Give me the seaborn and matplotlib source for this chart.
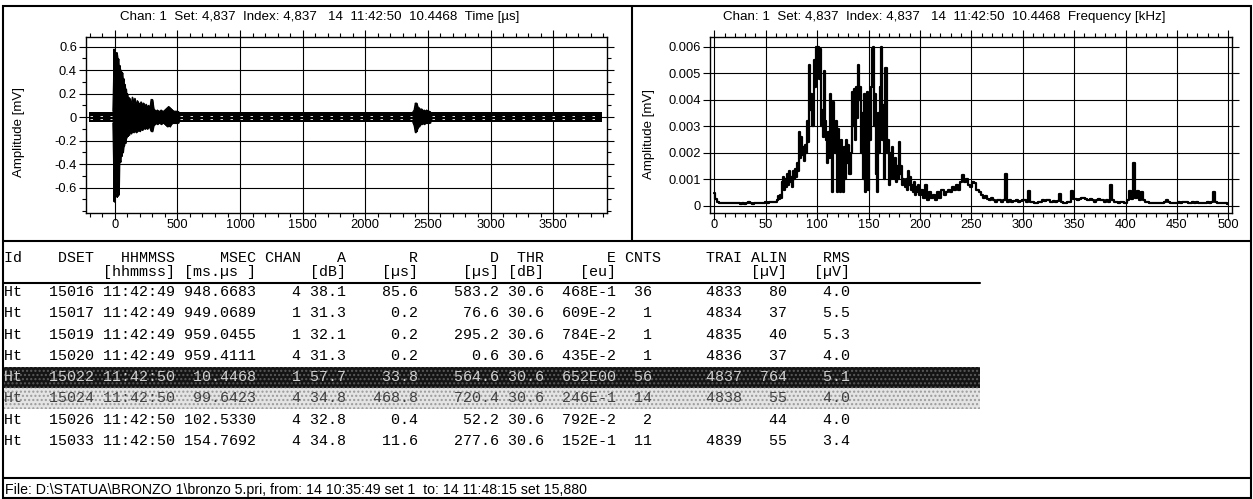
import numpy as np
import pandas as pd
import matplotlib
matplotlib.use("Agg")
import matplotlib.pyplot as plt
import seaborn as sns
from matplotlib.ticker import MultipleLocator, FixedLocator, FuncFormatter
from matplotlib.patches import Rectangle

# ---------------- DATA ----------------
title_time = "Chan: 1  Set: 4,837  Index: 4,837   14  11:42:50  10.4468  Time [\u00b5s]"
title_freq = "Chan: 1  Set: 4,837  Index: 4,837   14  11:42:50  10.4468  Frequency [kHz]"
ylabel_txt = "Amplitude [mV]"
footer_txt = "File: D:\\STATUA\\BRONZO 1\\bronzo 5.pri, from: 14 10:35:49 set 1  to: 14 11:48:15 set 15,880"

# labelled amplitude ticks (mV)
time_yticks = [-0.6, -0.4, -0.2, 0.0, 0.2, 0.4, 0.6]

# waveform noise band (mV) over whole record (us)
noise_t = [-205, 3891]
noise_hi = [0.045, 0.045]
noise_lo = [-0.045, -0.045]
quiet_spans = [(-200, -20), (520, 2370), (2530, 3885)]

# first burst envelope (us, mV)
burst1_t = [-15, -10, -6, -3, 0,
            4, 8, 12, 16, 20,
            24, 28, 32, 36, 40,
            45, 50, 55, 60, 65,
            70, 75, 80, 85, 90,
            95, 100, 105, 110, 115,
            120, 130, 140, 150, 160,
            170, 180, 190, 200, 210,
            220, 230, 240, 250, 260,
            270, 280, 290, 300, 310,
            320, 330, 340, 350, 360,
            370, 380, 390, 400, 410,
            420, 430, 440, 450, 460,
            470, 480, 490, 500, 510]
burst1_hi = [0.05, 0.30, 0.58, 0.35, 0.45,
             0.38, 0.50, 0.40, 0.55, 0.52,
             0.45, 0.50, 0.42, 0.40, 0.44,
             0.36, 0.40, 0.35, 0.38, 0.30,
             0.33, 0.25, 0.28, 0.22, 0.24,
             0.17, 0.20, 0.14, 0.17, 0.12,
             0.16, 0.10, 0.17, 0.12, 0.16,
             0.10, 0.14, 0.12, 0.11, 0.13,
             0.10, 0.12, 0.09, 0.11, 0.08,
             0.10, 0.07, 0.15, 0.15, 0.07,
             0.06, 0.05, 0.06, 0.05, 0.05,
             0.06, 0.05, 0.05, 0.06, 0.07,
             0.08, 0.09, 0.08, 0.07, 0.06,
             0.05, 0.05, 0.05, 0.05, 0.045]
burst1_lo = [-0.05, -0.35, -0.72, -0.45, -0.60,
             -0.40, -0.43, -0.55, -0.68, -0.66,
             -0.67, -0.60, -0.66, -0.40, -0.35,
             -0.38, -0.30, -0.33, -0.27, -0.30,
             -0.25, -0.24, -0.20, -0.22, -0.18,
             -0.17, -0.15, -0.16, -0.13, -0.15,
             -0.12, -0.14, -0.12, -0.13, -0.11,
             -0.13, -0.12, -0.11, -0.12, -0.10,
             -0.11, -0.09, -0.10, -0.09, -0.10,
             -0.08, -0.09, -0.12, -0.12, -0.07,
             -0.06, -0.05, -0.06, -0.05, -0.05,
             -0.06, -0.05, -0.05, -0.06, -0.07,
             -0.08, -0.07, -0.08, -0.06, -0.05,
             -0.05, -0.05, -0.05, -0.05, -0.045]

# second burst envelope
burst2_t = [2380, 2390, 2395, 2400, 2405, 2410, 2415, 2420, 2425, 2430,
            2440, 2450, 2460, 2470, 2480, 2490, 2500, 2510, 2520]
burst2_hi = [0.045, 0.06, 0.09, 0.12, 0.10, 0.12, 0.10, 0.08, 0.07, 0.08,
             0.06, 0.07, 0.05, 0.06, 0.05, 0.06, 0.05, 0.05, 0.045]
burst2_lo = [-0.045, -0.07, -0.10, -0.13, -0.11, -0.12, -0.10, -0.09, -0.07, -0.08,
             -0.06, -0.06, -0.05, -0.06, -0.05, -0.05, -0.05, -0.05, -0.045]

# spectrum (kHz, amplitude in 1e-3 mV)
spec_f_low = [0, 2, 4, 6, 8, 10, 12, 14, 16, 18,
              20, 22, 24, 26, 28, 30, 32, 34, 36, 38,
              40, 42, 44, 46, 48, 50, 52, 54, 56, 58]
spec_a_low = [0.48, 0.25, 0.15, 0.12, 0.10, 0.09, 0.10, 0.09, 0.10, 0.11,
              0.10, 0.09, 0.10, 0.08, 0.09, 0.08, 0.09, 0.15, 0.09, 0.08,
              0.09, 0.10, 0.11, 0.10, 0.12, 0.13, 0.12, 0.14, 0.13, 0.15]
spec_f_mid = [60, 61, 62, 63, 64, 65, 66, 67, 68, 69,
              70, 71, 72, 73, 74, 75, 76, 77, 78, 79,
              80, 81, 82, 83, 84, 85, 86, 87, 88, 89,
              90, 91, 92, 93, 94, 95, 96, 97, 98, 99,
              100, 101, 102, 103, 104, 105, 106, 107, 108, 109,
              110, 111, 112, 113, 114, 115, 116, 117, 118, 119,
              120, 121, 122, 123, 124, 125, 126, 127, 128, 129,
              130, 131, 132, 133, 134, 135, 136, 137, 138, 139,
              140, 141, 142, 143, 144, 145, 146, 147, 148, 149,
              150, 151, 152, 153, 154, 155, 156, 157, 158, 159,
              160, 161, 162, 163, 164, 165, 166, 167, 168, 169,
              170, 171, 172, 173, 174, 175, 176, 177, 178, 179,
              180, 181, 182, 183, 184, 185, 186, 187, 188, 189,
              190, 191, 192, 193, 194, 195, 196, 197, 198, 199,
              200]
spec_a_mid = [0.15, 0.2, 0.35, 0.25, 0.4, 0.3, 0.9, 1.1, 0.6, 1.0,
              0.7, 1.2, 0.8, 1.3, 0.9, 1.1, 0.7, 1.3, 1.0, 1.4,
              1.1, 1.6, 1.3, 2.8, 1.8, 2.6, 1.9, 2.2, 1.7, 2.3,
              2.0, 3.2, 2.4, 5.3, 3.6, 4.2, 3.0, 5.5, 4.5, 6.0,
              5.2, 6.0, 4.8, 5.9, 3.0, 3.6, 2.6, 5.1, 3.2, 2.5,
              1.6, 2.8, 1.8, 4.2, 2.4, 0.5, 3.9, 2.7, 2.0, 3.2,
              0.5, 2.9, 1.5, 0.5, 2.5, 1.8, 0.5, 2.2, 1.0, 2.5,
              1.6, 2.3, 1.2, 2.0, 4.3, 3.0, 4.4, 2.5, 4.5, 3.3,
              5.3, 4.0, 4.5, 2.0, 3.5, 1.0, 4.2, 0.5, 3.0, 4.3,
              0.6, 3.5, 2.5, 4.5, 5.9, 6.0, 3.0, 4.2, 1.2, 0.5,
              3.5, 2.0, 4.5, 6.0, 2.5, 3.8, 1.0, 5.2, 2.0, 2.5,
              0.8, 2.0, 1.0, 2.2, 1.5, 1.0, 1.8, 0.9, 1.5, 1.0,
              2.4, 1.2, 1.5, 0.8, 1.0, 0.9, 0.7, 1.0, 0.6, 1.3,
              0.8, 1.1, 0.6, 0.8, 0.5, 0.9, 0.4, 0.7, 0.5, 0.8,
              0.4]
spec_f_high = [202, 204, 206, 208, 210, 212, 214, 216, 218, 220,
               222, 224, 226, 228, 230, 232, 234, 236, 238, 240,
               242, 244, 246, 248, 250, 252, 254, 256, 258, 260,
               262, 264, 266, 268, 270, 272, 274, 276, 278, 280,
               282, 284, 286, 288, 290, 292, 294, 296, 298, 300,
               302, 304, 306, 308, 310, 312, 314, 316, 318, 320,
               322, 324, 326, 328, 330, 332, 334, 336, 338, 340,
               342, 344, 346, 348, 350, 352, 354, 356, 358, 360,
               362, 364, 366, 368, 370, 372, 374, 376, 378, 380,
               382, 384, 386, 388, 390, 392, 394, 396, 398, 400,
               402, 404, 406, 408, 410, 412, 414, 416, 418, 420,
               422, 424, 426, 428, 430, 432, 434, 436, 438, 440,
               442, 444, 446, 448, 450, 452, 454, 456, 458, 460,
               462, 464, 466, 468, 470, 472, 474, 476, 478, 480,
               482, 484, 486, 488, 490, 492, 494, 496, 498, 500]
spec_a_high = [0.6, 0.3, 0.8, 0.2, 0.5, 0.3, 0.4, 0.2, 0.5, 0.3,
               0.6, 0.4, 0.5, 0.6, 0.5, 0.7, 0.6, 0.8, 0.6, 0.9,
               1.15, 0.9, 1.0, 0.8, 0.7, 0.9, 0.85, 0.6, 0.5, 0.4,
               0.3, 0.35, 0.25, 0.2, 0.3, 0.2, 0.15, 0.2, 0.2, 0.15,
               0.2, 1.2, 0.15, 0.2, 0.15, 0.18, 0.2, 0.15, 0.17, 0.2,
               0.2, 0.15, 0.55, 0.15, 0.15, 0.12, 0.1, 0.15, 0.15, 0.2,
               0.18, 0.2, 0.2, 0.15, 0.18, 0.15, 0.18, 0.45, 0.15, 0.12,
               0.12, 0.15, 0.15, 0.55, 0.25, 0.25, 0.2, 0.25, 0.3, 0.3,
               0.25, 0.2, 0.25, 0.2, 0.15, 0.2, 0.25, 0.2, 0.2, 0.15,
               0.2, 0.15, 0.8, 0.2, 0.15, 0.15, 0.12, 0.15, 0.15, 0.12,
               0.2, 0.55, 0.25, 1.6, 0.3, 0.55, 0.2, 0.5, 0.2, 0.15,
               0.15, 0.12, 0.12, 0.1, 0.12, 0.12, 0.1, 0.12, 0.15, 0.2,
               0.15, 0.12, 0.1, 0.12, 0.12, 0.15, 0.12, 0.15, 0.15, 0.15,
               0.12, 0.12, 0.15, 0.12, 0.15, 0.12, 0.1, 0.1, 0.12, 0.15,
               0.12, 0.15, 0.5, 0.15, 0.12, 0.12, 0.12, 0.1, 0.1, 0.08]

# hit table
tbl_id = ["Ht", "Ht", "Ht", "Ht", "Ht", "Ht", "Ht", "Ht"]
tbl_dset = ["15016", "15017", "15019", "15020", "15022", "15024", "15026", "15033"]
tbl_hhmmss = ["11:42:49", "11:42:49", "11:42:49", "11:42:49", "11:42:50", "11:42:50", "11:42:50", "11:42:50"]
tbl_msec = ["948.6683", "949.0689", "959.0455", "959.4111", "10.4468", "99.6423", "102.5330", "154.7692"]
tbl_chan = ["4", "1", "1", "4", "1", "4", "4", "4"]
tbl_a = ["38.1", "31.3", "32.1", "31.3", "57.7", "34.8", "32.8", "34.8"]
tbl_r = ["85.6", "0.2", "0.2", "0.2", "33.8", "468.8", "0.4", "11.6"]
tbl_d = ["583.2", "76.6", "295.2", "0.6", "564.6", "720.4", "52.2", "277.6"]
tbl_thr = ["30.6", "30.6", "30.6", "30.6", "30.6", "30.6", "30.6", "30.6"]
tbl_e = ["468E-1", "609E-2", "784E-2", "435E-2", "652E00", "246E-1", "792E-2", "152E-1"]
tbl_cnts = ["36", "1", "1", "1", "56", "14", "2", "11"]
tbl_trai = ["4833", "4834", "4835", "4836", "4837", "4838", "", "4839"]
tbl_alin = ["80", "37", "40", "37", "764", "55", "44", "55"]
tbl_rms = ["4.0", "5.5", "5.3", "4.0", "5.1", "4.0", "4.0", "3.4"]
hdr_names = ["DSET", "HHMMSS", "MSEC", "CHAN", "A", "R", "D", "THR", "E", "CNTS", "TRAI", "ALIN", "RMS"]
hdr_units = ["", "[hhmmss]", "[ms.\u00b5s ]", "", "[dB]", "[\u00b5s]", "[\u00b5s]", "[dB]", "[eu]", "", "", "[\u00b5V]", "[\u00b5V]"]
selected_rows = [4, 5]

# ---------------- STYLE / LAYOUT ----------------
sns.set_theme(style="ticks")
plt.rcParams['font.family'] = ['Liberation Sans', 'DejaVu Sans']
plt.rcParams['axes.unicode_minus'] = False
plt.rcParams['hatch.linewidth'] = 1.0

W, H = 1253, 499
fig = plt.figure(figsize=(W / 100, H / 100), dpi=100)
fig.patch.set_facecolor('white')

bg = fig.add_axes([0, 0, 1, 1], zorder=0)
bg.set_xlim(0, W)
bg.set_ylim(H, 0)
bg.axis('off')


def px_axes(x0, y0, x1, y1):
    return fig.add_axes([x0 / W, 1 - y1 / H, (x1 - x0) / W, (y1 - y0) / H], zorder=2)


ax1 = px_axes(86, 37, 607, 213)
ax2 = px_axes(710, 37, 1232, 213)

FS_TICK = 9.3
FS_TITLE = 9.6
FS_LABEL = 9.5
FS_FOOT = 10.2
fmt = FuncFormatter(lambda v, p: f"{v:g}")


def style(ax, xlim, ylim, xmaj, xmin, ymaj, ymin):
    ax.set_xlim(*xlim)
    ax.set_ylim(*ylim)
    ax.set_facecolor('white')
    for s in ax.spines.values():
        s.set_color('black')
        s.set_linewidth(1.0)
    ax.xaxis.set_major_locator(MultipleLocator(xmaj))
    ax.xaxis.set_minor_locator(MultipleLocator(xmin))
    if isinstance(ymaj, list):
        ax.yaxis.set_major_locator(FixedLocator(ymaj))
    else:
        ax.yaxis.set_major_locator(MultipleLocator(ymaj))
    if ymin:
        ax.yaxis.set_minor_locator(MultipleLocator(ymin))
    ax.xaxis.set_major_formatter(fmt)
    ax.yaxis.set_major_formatter(fmt)
    ax.grid(True, which='major', color='black', lw=0.8)
    ax.tick_params(axis='both', which='both', direction='out', colors='black',
                   top=True, right=True, bottom=True, left=True,
                   labeltop=False, labelright=False, labelsize=FS_TICK)
    ax.tick_params(which='major', length=5, width=0.8)
    ax.tick_params(which='minor', length=3, width=0.8)
    ax.tick_params(axis='x', pad=-0.5)
    ax.tick_params(axis='y', pad=1.5)
    ax.set_xlabel("")
    ax.set_ylabel(ylabel_txt, fontsize=FS_LABEL, color='black')


# ---- time waveform ----
ax1.fill_between(noise_t, noise_lo, noise_hi, color='black', lw=0, zorder=3)
ax1.fill_between(burst1_t, burst1_lo, burst1_hi, color='black', lw=0.8, zorder=3)
ax1.fill_between(burst2_t, burst2_lo, burst2_hi, color='black', lw=0.8, zorder=3)
for hi, lo, t in [(burst1_hi, burst1_lo, burst1_t), (burst2_hi, burst2_lo, burst2_t)]:
    sns.lineplot(x=t, y=hi, ax=ax1, color='black', lw=0.9, estimator=None, sort=False, zorder=3)
    sns.lineplot(x=t, y=lo, ax=ax1, color='black', lw=0.9, estimator=None, sort=False, zorder=3)
for a, b in quiet_spans:
    ax1.hlines([0.012, -0.012], a, b, colors='white', lw=0.6, linestyles=(0, (3, 9)), zorder=4)
style(ax1, (-230, 3930), (-0.817, 0.683), 500, 100, time_yticks, 0.1)
ax1.yaxis.set_label_coords(-(86 - 25) / 521, 0.46)

# ---- spectrum ----
spec_f = spec_f_low + spec_f_mid + spec_f_high
spec_a = [v / 1000.0 for v in spec_a_low + spec_a_mid + spec_a_high]
spec_df = pd.DataFrame({"freq": spec_f, "amp": spec_a})
sns.lineplot(data=spec_df, x="freq", y="amp", ax=ax2, color='black', lw=1.6,
             estimator=None, drawstyle='steps-mid', zorder=3)
style(ax2, (-4.2, 503.6), (-0.000275, 0.00637), 50, 10, 0.001, None)
ax2.yaxis.set_label_coords(-(710 - 655) / 522, 0.45)

# ---- titles ----
fig.text(320 / W, 1 - 17 / H, title_time, ha='center', va='center', fontsize=FS_TITLE, color='black')
fig.text(944 / W, 1 - 17 / H, title_freq, ha='center', va='center', fontsize=FS_TITLE, color='black')

# ---- frames ----
LW = 1.5
bg.add_patch(Rectangle((3, 6), 1248, 492, fill=False, edgecolor='black', lw=LW))
bg.plot([3, 1251], [241, 241], color='black', lw=LW)
bg.plot([632, 632], [6, 241], color='black', lw=LW)
bg.plot([3, 1251], [478, 478], color='black', lw=LW)

# ---- table ----
col_end = [10, 19, 28, 33, 38, 46, 55, 60, 68, 73, 82, 87, 94]
val_end = [10, 19, 28, 33, 38, 46, 55, 60, 68, 72, 82, 87, 94]


def build(first, cells, ends):
    buf = [' '] * 100
    for i, ch in enumerate(first):
        buf[i] = ch
    for text, e in zip(cells, ends):
        s = e - len(text)
        for i, ch in enumerate(text):
            buf[s + i] = ch
    return ''.join(buf).rstrip()


MONO = dict(family='Liberation Mono', fontsize=10.8, va='center', ha='left')
TX = 4
bg.text(TX, 258, build("Id", hdr_names, col_end), color='black', **MONO)
bg.text(TX, 272, build("", hdr_units, col_end), color='black', **MONO)
bg.plot([3, 980], [283, 283], color='black', lw=1.5)

row_y0, row_dy = 292, 21.3
for i in range(len(tbl_dset)):
    y = row_y0 + i * row_dy
    cells = [tbl_dset[i], tbl_hhmmss[i], tbl_msec[i], tbl_chan[i], tbl_a[i], tbl_r[i],
             tbl_d[i], tbl_thr[i], tbl_e[i], tbl_cnts[i], tbl_trai[i], tbl_alin[i], tbl_rms[i]]
    line = build(tbl_id[i], cells, val_end)
    color = 'black'
    if i == selected_rows[0]:
        bg.add_patch(Rectangle((4, y - 10.5), 976, 21, facecolor='#141414',
                               edgecolor='#5a5a5a', hatch='....', lw=0))
        color = '#d0d0d0'
    elif i == selected_rows[1]:
        bg.add_patch(Rectangle((4, y - 10.5), 976, 21, facecolor='#e4e4e4',
                               edgecolor='#9a9a9a', hatch='....', lw=0))
        color = '#404040'
    bg.text(TX, y, line, color=color, **MONO)

# ---- footer ----
bg.text(5, 490, footer_txt, fontsize=FS_FOOT, va='center', ha='left', color='black')

fig.savefig("out.png", dpi=100, facecolor='white')
